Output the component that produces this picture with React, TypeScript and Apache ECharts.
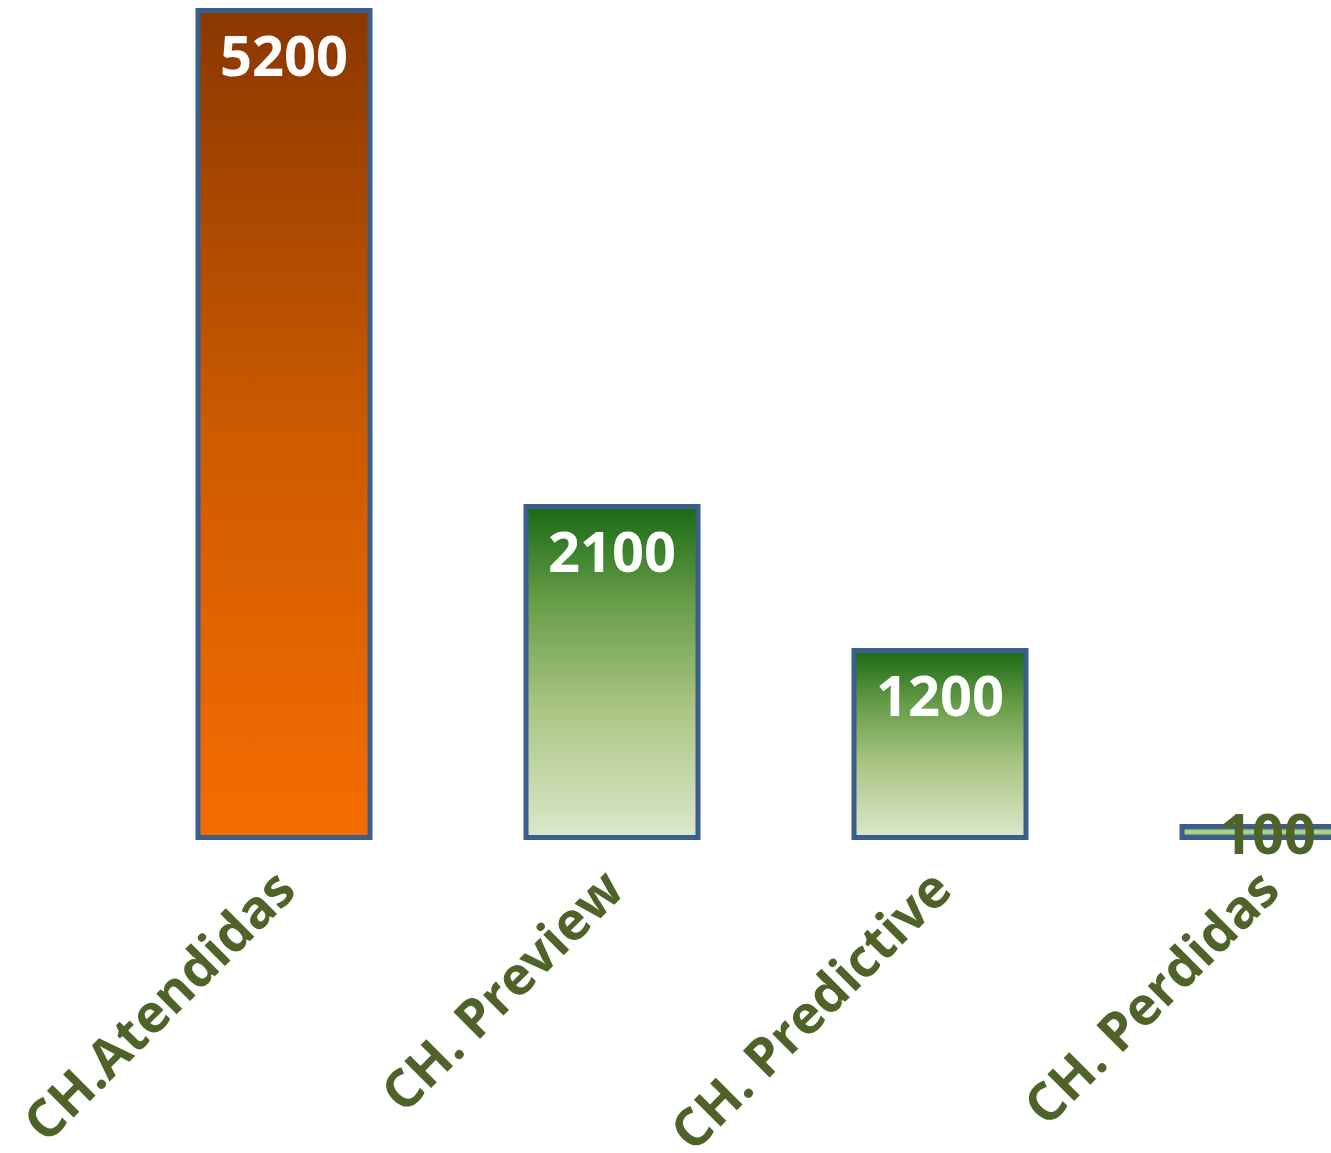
import React, { useEffect, useRef } from "react";
import * as echarts from "echarts";

const categories = ["CH.Atendidas", "CH. Preview", "CH. Predictive", "CH. Perdidas"];
const values = [5200, 2100, 1200, 100];

const orangeGrad = () =>
  new echarts.graphic.LinearGradient(0, 0, 0, 1, [
    { offset: 0, color: "#8A3700" },
    { offset: 0.5, color: "#CC5A00" },
    { offset: 1, color: "#F66C00" },
  ]);
const greenGrad = () =>
  new echarts.graphic.LinearGradient(0, 0, 0, 1, [
    { offset: 0, color: "#1A6A14" },
    { offset: 0.3, color: "#6A9E4A" },
    { offset: 0.6, color: "#A9C482" },
    { offset: 1, color: "#DCE8CB" },
  ]);
const stripeGrad = () =>
  new echarts.graphic.LinearGradient(0, 0, 0, 1, [
    { offset: 0, color: "#2E7A1E" },
    { offset: 0.5, color: "#C6DDA0" },
    { offset: 1, color: "#2E7A1E" },
  ]);

export default function App() {
  const ref = useRef<HTMLDivElement>(null);
  useEffect(() => {
    document.body.style.margin = "0";
    const chart = echarts.init(ref.current!, null, { renderer: "svg" });
    const fills = [orangeGrad(), greenGrad(), greenGrad(), stripeGrad()];
    chart.setOption({
      animation: false,
      grid: {
        left: 120,
        right: -101,
        top: 8,
        bottom: 313,
        containLabel: false,
        outerBoundsMode: "none",
      },
      xAxis: {
        type: "category",
        data: categories,
        axisLine: { show: false },
        axisTick: { show: false },
        axisLabel: {
          rotate: 45,
          interval: 0,
          margin: 38,
          color: "#4F6228",
          fontFamily: "Open Sans",
          fontWeight: "bold",
          fontSize: 53,
        },
      },
      yAxis: { type: "value", min: 0, max: 5200, show: false, splitLine: { show: false } },
      series: [
        {
          type: "bar",
          barWidth: 177,
          data: values.map((v, i) => ({
            value: v,
            itemStyle: {
              color: fills[i],
              borderColor: "#3B5E8C",
              borderWidth: 5,
            },
            label:
              i === 3
                ? {
                    show: true,
                    position: "inside",
                    color: "#4F6228",
                    fontFamily: "Open Sans",
                    fontWeight: "bold",
                    fontSize: 56,
                  }
                : {
                    show: true,
                    position: "insideTop",
                    distance: 18,
                    color: "#FFFFFF",
                    fontFamily: "Open Sans",
                    fontWeight: "bold",
                    fontSize: 56,
                  },
          })),
        },
      ],
    });
    return () => chart.dispose();
  }, []);
  return (
    <div
      ref={ref}
      style={{ position: "absolute", left: 0, top: 0, width: 1331, height: 1153 }}
    />
  );
}
